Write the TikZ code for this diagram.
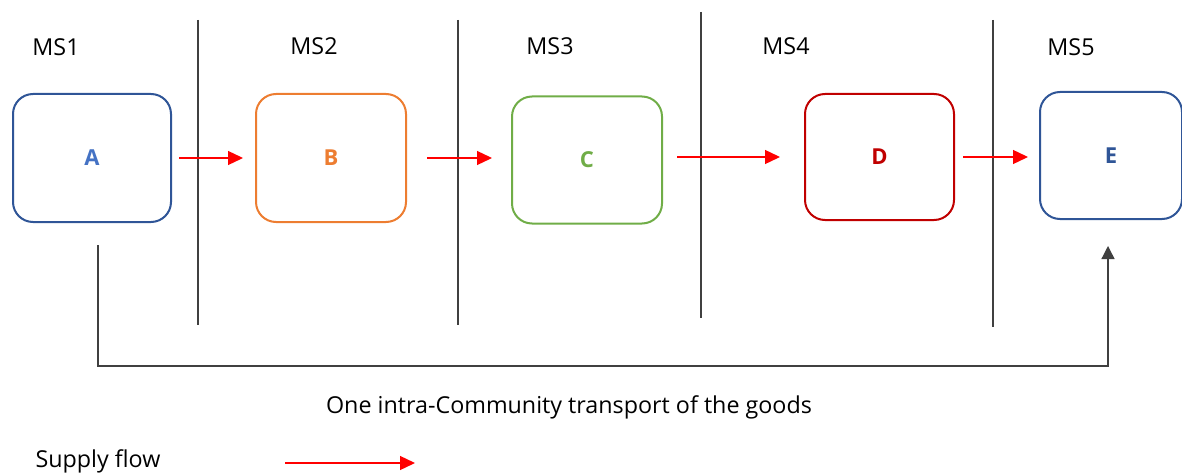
\documentclass[tikz,border=0pt]{standalone}
\usepackage{fontspec}
\setmainfont{Open Sans}
\usetikzlibrary{arrows.meta}
\definecolor{dblue}{HTML}{2F5597}
\definecolor{lblue}{HTML}{4472C4}
\definecolor{orng}{HTML}{ED7D31}
\definecolor{grn}{HTML}{70AD47}
\definecolor{dred}{HTML}{C00000}
\definecolor{sep}{HTML}{404040}
\tikzset{
  box/.style={draw, line width=2pt, rounded corners=20pt, fill=white, font=\fontsize{22}{26}\selectfont\bfseries, inner sep=0pt},
  lab/.style={font=\fontsize{23.3}{28}\selectfont, inner sep=0pt},
  flow/.style={draw=red, line width=1.3pt, -{Triangle[length=15pt,width=14pt]}},
  conn/.style={draw=sep, line width=1.3pt, -{Triangle[length=13pt,width=13pt]}},
  divider/.style={draw=sep, line width=1.3pt}
}
\begin{document}
\begin{tikzpicture}[x=1pt,y=-1pt]
\useasboundingbox (0,0) rectangle (1182,473);
% dividers
\draw[divider] (198,20) -- (198,325);
\draw[divider] (458,20) -- (458,325);
\draw[divider] (701,12) -- (701,318);
\draw[divider] (993,20) -- (993,327);
% member state labels
\node[lab] (ms1) at (56,47) {MS1};
\node[lab] (ms2) at (314,46) {MS2};
\node[lab] (ms3) at (550,46) {MS3};
\node[lab] (ms4) at (786,46) {MS4};
\node[lab] (ms5) at (1071,47) {MS5};
% boxes
\node[box, draw=dblue, text=lblue, minimum width=158pt, minimum height=128pt] (A) at (92,158) {A};
\node[box, draw=orng, text=orng, minimum width=150pt, minimum height=128pt] (B) at (331,158) {B};
\node[box, draw=grn, text=grn, minimum width=150pt, minimum height=127pt] (C) at (587,160) {C};
\node[box, draw=dred, text=dred, minimum width=149pt, minimum height=126pt] (D) at (879.5,157) {D};
\node[box, draw=dblue, text=dblue, minimum width=142pt, minimum height=127pt] (E) at (1111,155.5) {E};
% supply flow arrows
\draw[flow] ([xshift=7pt]A.east) -- ([xshift=-12pt]B.west);
\draw[flow] ([xshift=20pt]B.east) -- ([xshift=-19pt]C.west |- B.east);
\draw[flow] ([xshift=14pt]C.east |- D.east) -- ([xshift=-24pt]D.west);
\draw[flow] ([xshift=8pt]D.east) -- ([xshift=-11pt]E.west |- D.east);
% transport connector
\coordinate (a0) at (98,245);
\coordinate (e0) at (1108,246);
\draw[conn] (a0) -- (98,366) -| (e0);
\node[lab] (cap) at (569,407) {One intra-Community transport of the goods};
% legend
\node[lab] (leg) at (98,461) {Supply flow};
\coordinate (l0) at (285,463);
\coordinate (l1) at (415,463);
\draw[flow] (l0) -- (l1);
\end{tikzpicture}
\end{document}
